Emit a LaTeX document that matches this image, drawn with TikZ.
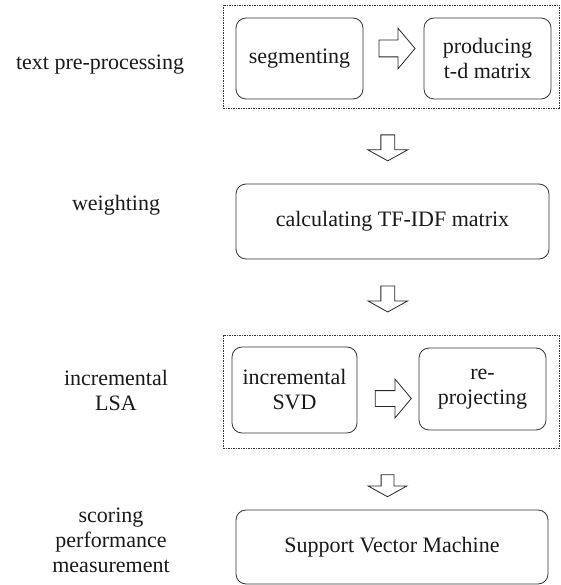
\documentclass[tikz,border=0pt]{standalone}
\usepackage{fontspec}
\setmainfont{Liberation Serif}
\usetikzlibrary{shapes.arrows, calc}
\tikzstyle{label} = [font=\fontsize{22}{25}\selectfont, align=center, text=black!90]
\tikzstyle{stage} = [rectangle, rounded corners=10pt, draw=black!80, line width=0.8pt, font=\fontsize{22}{25}\selectfont, align=center, text=black!90]
\tikzstyle{group} = [rectangle, draw=black!80, line width=0.6pt, dash pattern=on 1.5pt off 1pt]
\tikzstyle{rarrow} = [single arrow, draw=black!85, line width=0.8pt, inner sep=8pt, single arrow head extend=12pt, single arrow tip angle=100, minimum height=36pt]
\tikzstyle{darrow} = [single arrow, draw=black!85, line width=0.8pt, inner sep=6.5pt, single arrow head extend=13pt, single arrow tip angle=122, minimum height=26pt, rotate=-90]

\begin{document}
\begin{tikzpicture}[x=1pt, y=-1pt]
    \useasboundingbox (0,0) rectangle (560,585);

    \node [label] at (100,65) (lpre) {text pre-processing};
    \node [label] at (116,205) (lweight) {weighting};
    \node [label] at (116,390) (llsa) {incremental\\LSA};
    \node [label] at (111,540) (lscore) {scoring\\performance\\measurement};

    \node [group, minimum width=336pt, minimum height=103pt] at (391,56.5) (group1) {};
    \node [stage, minimum width=127pt, minimum height=81pt] at (299.5,58.5) (seg) {segmenting};
    \node [stage, minimum width=127pt, minimum height=81pt] at (487.5,58.5) (prod) {producing\\t-d matrix};
    \node [stage, minimum width=313pt, minimum height=75pt] at (392.5,221.5) (calc) {calculating TF-IDF matrix};
    \node [group, minimum width=336pt, minimum height=113pt] at (391,391.5) (group2) {};
    \node [stage, minimum width=125pt, minimum height=86pt] at (294.5,390) (isvd) {incremental\\SVD};
    \node [stage, minimum width=127pt, minimum height=82pt] at (482.5,389) (reproj) {re-\\projecting};
    \node [stage, minimum width=312pt, minimum height=74pt] at (392,547) (svm) {Support Vector Machine};

    \node [rarrow, yshift=10pt] at ($(seg.east)!0.5!(prod.west)$) (a1) {};
    \node [darrow] at ($(group1.south)!0.5!(calc.north)+(-4,0)$) (a2) {};
    \node [darrow] at ($(calc.south)!0.5!(group2.north)+(-4,0)$) (a3) {};
    \node [rarrow, yshift=-9pt, minimum height=36pt, single arrow head extend=11.5pt, inner sep=7.5pt] at ($(isvd.east)!0.5!(reproj.west)+(2,0)$) (a4) {};
    \node [darrow, minimum height=22pt, inner sep=6pt] at ($(group2.south)!0.5!(svm.north)+(-4,5)$) (a5) {};
\end{tikzpicture}
\end{document}
